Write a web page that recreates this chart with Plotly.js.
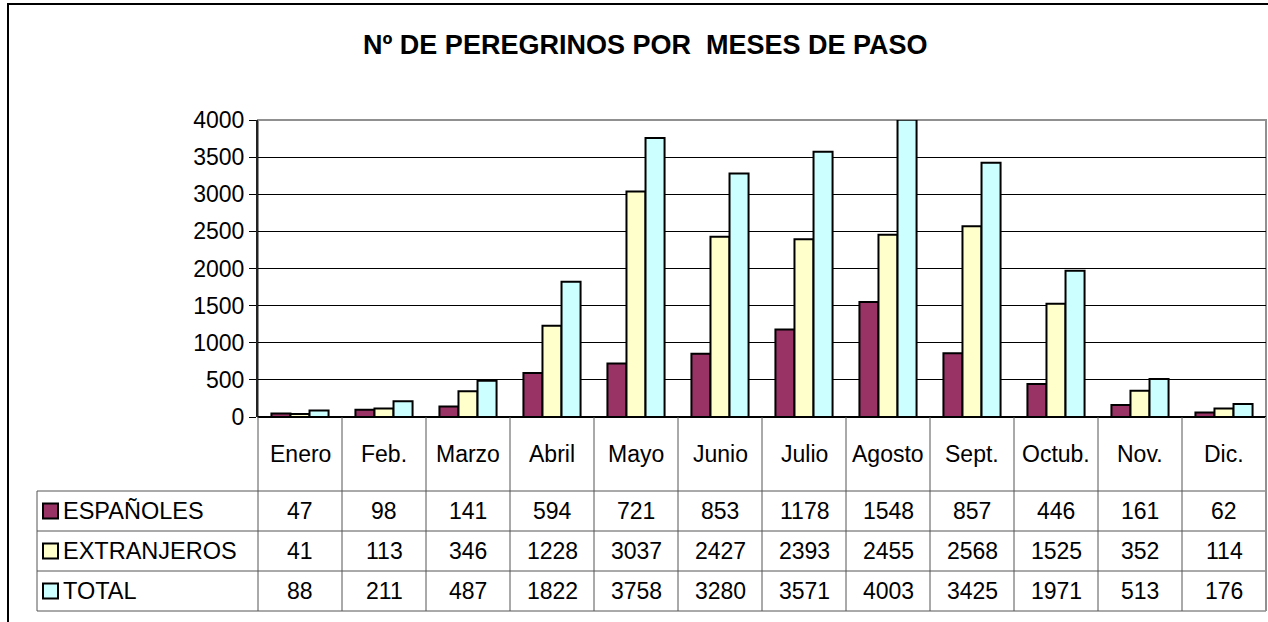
<!DOCTYPE html>
<html>
<head>
<meta charset="utf-8">
<script src="https://cdn.plot.ly/plotly-3.0.1.min.js"></script>
<style>html,body{margin:0;padding:0;background:#fff;}#chart{width:1268px;height:622px;}</style>
</head>
<body>
<div id="chart"></div>
<script>
const months = ["Enero","Feb.","Marzo","Abril","Mayo","Junio","Julio","Agosto","Sept.","Octub.","Nov.","Dic."];
const espanoles = [47,98,141,594,721,853,1178,1548,857,446,161,62];
const extranjeros = [41,113,346,1228,3037,2427,2393,2455,2568,1525,352,114];
const total = [88,211,487,1822,3758,3280,3571,4003,3425,1971,513,176];
const seriesNames = ["ESPAÑOLES","EXTRANJEROS","TOTAL"];
const seriesColors = ["#993366","#FFFFCC","#CCFFFF"];
const seriesData = [espanoles, extranjeros, total];
const yTicks = [0,500,1000,1500,2000,2500,3000,3500,4000];
const titleText = "Nº DE PEREGRINOS POR  MESES DE PASO";

const W = 1268, H = 622;
const L = 258, R = 1266, T = 120, B = 417;
const px = x => (x - L) / (R - L);
const py = y => (B - y) / (B - T);
const FONT = "Arial, 'Liberation Sans', sans-serif";
const FS = 23;

const traces = seriesData.map((d, i) => ({
  type: "bar",
  x: months,
  y: d,
  name: seriesNames[i],
  marker: {color: seriesColors[i], line: {color: "#000", width: 2}},
  hoverinfo: "skip"
}));

const shapes = [];
const annotations = [];
const tableLine = {color: "#555", width: 1};
const txt = (o) => Object.assign({showarrow: false, xanchor: "center", yanchor: "middle", font: {family: FONT, size: FS, color: "#000"}}, o);

// outer frame
shapes.push({type: "rect", xref: "paper", yref: "paper", x0: px(8), x1: px(1290), y0: py(640), y1: py(4), line: {color: "#000", width: 2}, layer: "above"});
// plot area border (top/right gray)
shapes.push({type: "rect", xref: "paper", yref: "paper", x0: 0, x1: 1, y0: 0, y1: 1, line: {color: "#909090", width: 2}, layer: "below"});

// table horizontal lines
const rowLines = [491, 531, 571, 611];
rowLines.forEach(y => shapes.push({type: "line", xref: "paper", yref: "paper", x0: px(37), x1: px(R), y0: py(y), y1: py(y), line: tableLine}));
// table vertical lines
for (let k = 0; k <= months.length; k++) {
  const xp = k / months.length;
  shapes.push({type: "line", xref: "paper", yref: "paper", x0: xp, x1: xp, y0: py(B), y1: py(611), line: k === 12 ? {color: "#909090", width: 2} : tableLine});
}
shapes.push({type: "line", xref: "paper", yref: "paper", x0: px(37), x1: px(37), y0: py(491), y1: py(611), line: tableLine});

// category labels
months.forEach(m => annotations.push(txt({xref: "x", yref: "paper", x: m, y: py(454), text: m})));

// table rows
const rowCenters = [511, 551, 591];
seriesData.forEach((d, i) => {
  const yc = rowCenters[i];
  shapes.push({type: "rect", xref: "paper", yref: "paper", x0: px(43), x1: px(58), y0: py(yc + 7.5), y1: py(yc - 7.5), fillcolor: seriesColors[i], line: {color: "#000", width: 2}});
  annotations.push(txt({xref: "paper", yref: "paper", x: px(61), y: py(yc), xanchor: "left", text: seriesNames[i], font: {family: FONT, size: 23.5, color: "#000"}}));
  d.forEach((v, j) => annotations.push(txt({xref: "x", yref: "paper", x: months[j], y: py(yc), text: String(v)})));
});

// title
annotations.push(txt({xref: "paper", yref: "paper", x: px(645), y: py(45), text: "<b>" + titleText + "</b>", font: {family: FONT, size: 27, color: "#000"}}));

const layout = {
  width: W, height: H,
  margin: {l: L, r: W - R, t: T, b: H - B, pad: 0},
  paper_bgcolor: "#fff", plot_bgcolor: "#fff",
  showlegend: false,
  barmode: "group",
  bargap: 0.32,
  bargroupgap: 0,
  font: {family: FONT, size: FS, color: "#000"},
  xaxis: {type: "category", range: [-0.5, 11.5], showticklabels: false, ticks: "", showgrid: false, zeroline: false, showline: false, fixedrange: true},
  yaxis: {range: [0, 4000], tickvals: yTicks, ticktext: yTicks.map(String), ticks: "outside", ticklen: 7, tickcolor: "#000", tickwidth: 1,
          showline: true, linecolor: "#222", linewidth: 2, showgrid: true, gridcolor: "#000", gridwidth: 1,
          zeroline: true, zerolinecolor: "#000", zerolinewidth: 2, tickfont: {family: FONT, size: FS, color: "#000"}, fixedrange: true},
  shapes: shapes,
  annotations: annotations
};

Plotly.newPlot("chart", traces, layout, {displayModeBar: false, staticPlot: true});
</script>
</body>
</html>
